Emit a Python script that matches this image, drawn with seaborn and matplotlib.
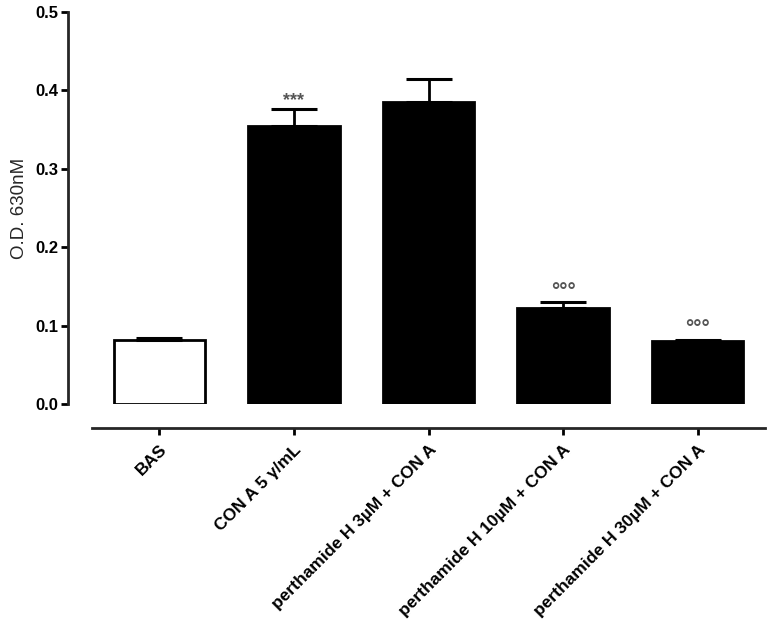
import matplotlib
matplotlib.use("Agg")
import matplotlib.pyplot as plt
import seaborn as sns
import numpy as np
import pandas as pd

categories = ["BAS", "CON A 5 \u03b3/mL", "perthamide H 3\u00b5M + CON A",
              "perthamide H 10\u00b5M + CON A", "perthamide H 30\u00b5M + CON A"]
values = [0.082, 0.355, 0.385, 0.123, 0.080]
errors = [0.002, 0.021, 0.030, 0.007, 0.002]
marks = ["", "***", "", "\u00b0\u00b0\u00b0", "\u00b0\u00b0\u00b0"]
bar_colors = ["white", "black", "black", "black", "black"]
yticks = [0.0, 0.1, 0.2, 0.3, 0.4, 0.5]

sns.set_style("ticks")
plt.rcParams['font.family'] = ['Liberation Sans', 'DejaVu Sans']

fig = plt.figure(figsize=(7.7, 6.3), dpi=100)
ax = fig.add_axes([92/770, 1-404/630, (765-92)/770, (404-12)/630])

df = pd.DataFrame({"cat": categories, "val": values})
sns.barplot(data=df, x="cat", y="val", hue="cat", palette=bar_colors,
            legend=False, edgecolor="black", linewidth=2, width=0.68,
            ax=ax, errorbar=None)

x = np.arange(len(categories))
ax.errorbar(x, values, yerr=[np.zeros(len(errors)), errors], fmt="none",
            ecolor="black", elinewidth=2, capsize=16.5, capthick=2.2)

for xi, v, e, m in zip(x, values, errors, marks):
    if m:
        is_star = m.startswith("*")
        ax.text(xi, v + e + (0.0 if is_star else 0.002), m, ha="center",
                va="bottom", fontsize=13 if is_star else 15,
                color="#555555", fontweight="bold")

for s in ["top", "right"]:
    ax.spines[s].set_visible(False)
ax.spines["left"].set_position(("outward", 17.3))
ax.spines["bottom"].set_position(("outward", 17.3))
ax.spines["left"].set_linewidth(2)
ax.spines["bottom"].set_linewidth(2)

ax.set_xlim(-0.5, 4.5)
ax.set_ylim(0, 0.5)
ax.set_yticks(yticks)
ax.set_yticklabels([f"{t:.1f}" for t in yticks])
ax.set_xticks(x)
ax.set_xticklabels(categories)
ax.set_xlabel("")
ax.set_ylabel("O.D. 630nM", fontsize=13.5, labelpad=5)
ax.tick_params(axis="both", width=2, length=5, direction="out", colors="black")
ax.tick_params(axis="x", pad=5)
ax.tick_params(axis="y", pad=2)
plt.setp(ax.get_xticklabels(), rotation=45, ha="right", va="top",
         rotation_mode="anchor", fontsize=12.5, fontweight="bold")
plt.setp(ax.get_yticklabels(), fontsize=12, fontweight="bold")

fig.savefig("out.png", dpi=100)
